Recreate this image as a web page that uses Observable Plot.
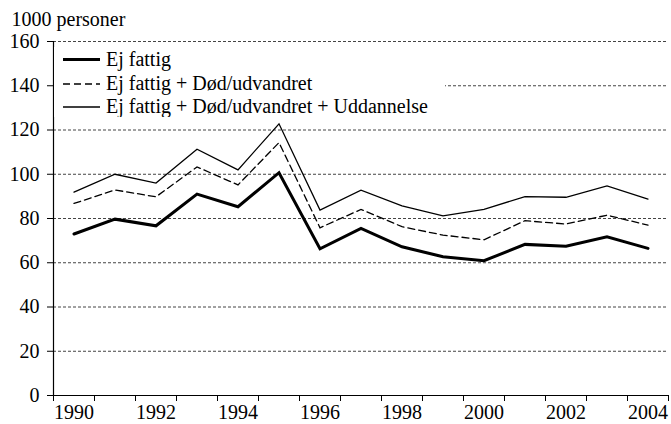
<!DOCTYPE html>
<html>
<head>
<meta charset="utf-8">
<script src="https://cdn.jsdelivr.net/npm/d3@7"></script>
<script src="https://cdn.jsdelivr.net/npm/@observablehq/plot@0.6"></script>
<style>
  html, body { margin: 0; padding: 0; background: #fff; }
  #wrap { position: relative; width: 671px; height: 424px; font-family: "Liberation Serif", serif; }
  #legend { position: absolute; left: 54px; top: 47px; width: 391px; height: 70px; background: #fff; }
</style>
</head>
<body>
<div id="wrap"></div>
<script>
const title = "1000 personer";
const years = [1990, 1991, 1992, 1993, 1994, 1995, 1996, 1997, 1998, 1999, 2000, 2001, 2002, 2003, 2004];
const ejFattig        = [73.0, 79.7, 76.7, 91.0, 85.3, 100.7, 66.3, 75.5, 67.2, 62.7, 60.9, 68.3, 67.5, 71.7, 66.5];
const ejFattigDoed    = [86.8, 92.9, 89.8, 103.3, 95.2, 114.3, 75.8, 84.1, 76.3, 72.5, 70.4, 79.0, 77.5, 81.5, 77.0];
const ejFattigDoedUdd = [91.9, 100.0, 96.0, 111.3, 102.0, 122.8, 83.8, 92.8, 85.7, 81.2, 84.1, 89.9, 89.6, 94.7, 88.8];
const seriesNames = ["Ej fattig", "Ej fattig + Død/udvandret", "Ej fattig + Død/udvandret + Uddannelse"];
const yTicks = [0, 20, 40, 60, 80, 100, 120, 140, 160];
const xLabelTicks = [1990, 1992, 1994, 1996, 1998, 2000, 2002, 2004];

const FONT = "Liberation Serif";
const styles = [
  {stroke: "#000", strokeWidth: 3, strokeDasharray: null},
  {stroke: "#000", strokeWidth: 1.3, strokeDasharray: "7,4"},
  {stroke: "#000", strokeWidth: 1.3, strokeDasharray: null}
];
const seriesValues = [ejFattig, ejFattigDoed, ejFattigDoedUdd];
const rows = seriesValues.map((vals, s) => years.map((yr, i) => ({year: yr, value: vals[i], series: seriesNames[s]})));
const xBoundaries = years.map(y => y - 0.5).concat([years[years.length - 1] + 0.5]);

const lineMarks = rows.map((data, s) => Plot.line(data, {
  x: "year", y: "value",
  stroke: styles[s].stroke, strokeWidth: styles[s].strokeWidth,
  strokeDasharray: styles[s].strokeDasharray, strokeLinejoin: "miter", strokeMiterlimit: 4
}));

const chart = Plot.plot({
  width: 671, height: 424,
  marginLeft: 53, marginRight: 3, marginTop: 41, marginBottom: 29,
  x: {domain: [xBoundaries[0], xBoundaries[xBoundaries.length - 1]]},
  y: {domain: [0, 160]},
  style: {fontFamily: FONT, fontSize: "20px", color: "#000", background: "#fff", overflow: "visible"},
  marks: [
    Plot.ruleY(yTicks, {stroke: "#444", strokeWidth: 1, strokeDasharray: "3,2"}),
    Plot.axisY({ticks: yTicks, tickSize: 6, tickPadding: 8, label: null, fontSize: 20, fontFamily: FONT}),
    Plot.axisX({ticks: xBoundaries, tickSize: 6, tickFormat: () => "", label: null}),
    Plot.axisX({ticks: xLabelTicks, tickSize: 0, tickPadding: 9, tickFormat: d => String(d), label: null, fontSize: 20, fontFamily: FONT}),
    Plot.ruleX([xBoundaries[0]], {stroke: "#000", strokeWidth: 1.2}),
    Plot.ruleY([0], {stroke: "#000", strokeWidth: 1.2}),
    ...lineMarks,
    Plot.text([title], {frameAnchor: "top-left", dx: -42, dy: -30, textAnchor: "start", lineAnchor: "top", fontSize: 20, fontFamily: FONT, fill: "#000"})
  ]
});

const wrap = document.getElementById("wrap");
wrap.appendChild(chart);

// Legend overlay (inside plot area, white background)
const legend = document.createElement("div");
legend.id = "legend";
wrap.appendChild(legend);
const lsvg = d3.select(legend).append("svg").attr("width", 391).attr("height", 70);
const rowY = [12.5, 37, 60];
seriesNames.forEach((name, s) => {
  lsvg.append("line")
    .attr("x1", 9).attr("x2", 46).attr("y1", rowY[s]).attr("y2", rowY[s])
    .attr("stroke", styles[s].stroke).attr("stroke-width", styles[s].strokeWidth)
    .attr("stroke-dasharray", styles[s].strokeDasharray);
  lsvg.append("text")
    .attr("x", 52).attr("y", rowY[s]).attr("dy", "0.32em")
    .attr("font-family", FONT)
    .attr("font-size", 20).attr("fill", "#000")
    .text(name);
});
</script>
</body>
</html>
